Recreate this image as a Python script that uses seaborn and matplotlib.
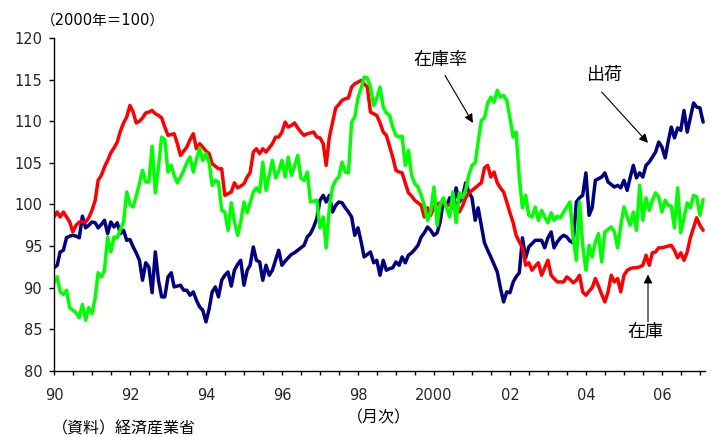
import matplotlib
matplotlib.use("Agg")
import matplotlib.pyplot as plt
import matplotlib.dates as mdates
import matplotlib.ticker as mticker
import numpy as np
import pandas as pd
import seaborn as sns

# monthly index, 2000 = 100, Jan 1990 .. Feb 2007
START = "1990-01-01"
N_MONTHS = 206

shipments = [
    92.4, 92.7, 94.3, 94.5, 96.0, 96.2, 96.3, 96.2, 96.0, 98.6, 97.2, 97.5,
    97.9, 97.8, 97.2, 97.6, 98.1, 96.5, 97.9, 97.3, 97.8, 96.5, 96.9, 95.7,
    95.8, 94.9, 94.2, 93.3, 90.9, 93.0, 92.5, 89.4, 94.3, 90.9, 88.9, 88.9,
    91.3, 91.8, 90.1, 90.2, 90.3, 89.7, 89.7, 89.1, 89.5, 88.5, 87.7, 87.3,
    85.9, 87.5, 89.5, 90.1, 88.9, 90.9, 91.5, 91.9, 90.2, 92.1, 92.8, 93.3,
    90.3, 92.1, 92.7, 94.9, 93.3, 93.1, 90.9, 92.7, 91.5, 92.1, 93.3, 94.5,
    92.7, 93.2, 93.6, 94.0, 94.2, 94.5, 94.8, 95.1, 96.1, 96.5, 97.3, 98.3,
    100.5, 101.1, 100.3, 101.1, 99.1, 99.9, 100.3, 100.2, 99.6, 99.1, 98.5, 96.3,
    97.2, 95.5, 93.7, 94.0, 94.3, 93.0, 93.3, 91.5, 93.3, 92.1, 92.3, 92.4,
    93.1, 92.7, 93.7, 93.0, 93.9, 94.2, 94.6, 95.1, 96.1, 96.6, 97.3, 96.9,
    96.3, 96.6, 97.9, 100.5, 99.7, 100.8, 99.6, 102.0, 100.3, 100.8, 102.6, 101.5,
    100.8, 98.1, 99.6, 97.5, 95.4, 94.5, 93.7, 92.8, 91.9, 90.0, 88.3, 89.5,
    89.4, 90.7, 91.3, 91.8, 96.0, 93.6, 94.9, 95.3, 95.7, 95.7, 95.7, 94.8,
    96.0, 96.7, 94.8, 95.5, 96.0, 96.3, 96.1, 95.6, 95.4, 100.3, 100.8, 101.1,
    103.8, 98.7, 99.6, 102.9, 103.1, 103.3, 103.8, 102.7, 102.4, 102.1, 102.3, 102.0,
    102.9, 101.7, 103.2, 104.7, 103.2, 103.8, 103.3, 104.7, 105.1, 105.7, 106.3, 107.5,
    106.9, 105.6, 107.5, 109.3, 108.0, 109.2, 108.9, 111.3, 108.7, 110.4, 112.2, 111.7,
    111.6, 109.9,
]

inventory = [
    98.5, 99.1, 98.5, 99.1, 98.5, 97.9, 96.7, 97.5, 97.9, 97.9, 97.9, 98.4,
    99.3, 100.5, 102.9, 103.5, 104.5, 105.3, 106.2, 106.8, 107.5, 108.8, 109.8, 110.5,
    111.9, 111.1, 109.8, 110.0, 110.4, 111.0, 111.1, 111.3, 110.9, 110.7, 110.4, 109.3,
    108.3, 108.4, 108.5, 107.3, 105.9, 106.4, 106.9, 107.8, 108.5, 106.7, 107.3, 106.9,
    106.4, 106.1, 104.9, 104.6, 104.3, 104.3, 101.1, 101.3, 101.5, 102.6, 102.0, 102.2,
    102.5, 103.3, 103.8, 106.3, 106.7, 106.1, 106.7, 106.3, 106.8, 107.3, 108.1, 108.1,
    108.7, 109.9, 109.3, 109.5, 109.8, 109.2, 108.7, 108.3, 108.5, 108.6, 108.7, 108.1,
    108.0, 107.3, 104.7, 108.1, 109.8, 111.6, 112.0, 112.5, 112.7, 112.8, 114.1, 114.5,
    114.7, 114.9, 114.5, 114.1, 111.1, 110.9, 110.7, 109.8, 108.7, 108.3, 107.0, 105.7,
    104.1, 103.9, 103.8, 102.6, 101.4, 101.0, 100.5, 100.2, 99.9, 98.5, 99.6, 98.7,
    99.7, 100.0, 100.2, 100.0, 99.9, 100.0, 100.1, 100.2, 99.1, 99.8, 100.8, 101.4,
    101.7, 102.0, 102.3, 102.6, 104.4, 104.7, 103.3, 103.9, 102.6, 102.0, 101.5, 100.3,
    99.0, 97.8, 96.3, 95.5, 94.8, 92.7, 93.0, 92.1, 92.6, 93.0, 91.5, 92.4,
    93.3, 91.5, 91.1, 90.7, 90.7, 90.7, 91.3, 91.0, 90.6, 90.9, 91.5, 89.5,
    89.1, 89.6, 90.0, 91.1, 90.2, 89.2, 88.3, 89.5, 91.5, 90.7, 91.1, 89.5,
    91.5, 92.1, 92.3, 92.4, 92.4, 92.5, 92.7, 93.9, 92.7, 94.2, 94.3, 94.8,
    94.8, 94.9, 95.0, 95.1, 94.5, 93.6, 94.2, 93.3, 94.3, 96.0, 97.2, 98.4,
    97.5, 96.9,
]

inventory_ratio = [
    90.6, 91.3, 89.5, 89.2, 89.7, 87.6, 87.3, 87.0, 86.4, 88.0, 86.1, 87.6,
    86.9, 88.8, 91.8, 91.3, 92.1, 96.1, 94.3, 96.1, 96.0, 97.0, 97.9, 101.5,
    100.0, 99.7, 101.0, 102.5, 104.1, 102.7, 102.7, 107.0, 101.4, 104.5, 108.1, 107.8,
    103.9, 104.7, 103.5, 102.6, 103.3, 104.1, 105.0, 105.7, 103.9, 105.4, 106.8, 105.3,
    106.1, 105.0, 102.3, 102.9, 102.7, 99.3, 99.1, 96.9, 100.2, 97.9, 96.3, 97.9,
    100.3, 99.0, 100.2, 101.5, 102.0, 101.5, 105.1, 101.7, 103.5, 105.3, 103.2, 104.0,
    105.3, 103.3, 105.7, 103.5, 104.6, 105.9, 103.2, 102.9, 103.9, 100.3, 100.4, 100.5,
    97.2, 98.5, 94.8, 99.6, 102.1, 102.9, 103.3, 105.1, 103.9, 103.8, 109.9, 110.5,
    112.8, 114.0, 115.3, 115.2, 114.1, 111.9, 112.8, 114.1, 111.7, 111.0, 110.7, 109.3,
    108.3, 108.1, 108.2, 104.7, 106.5, 103.5, 102.5, 102.1, 101.1, 99.9, 98.1, 99.1,
    102.1, 97.5, 100.0, 100.8, 99.6, 98.5, 101.5, 97.8, 101.4, 100.8, 101.7, 103.5,
    104.7, 105.0, 107.5, 110.1, 110.4, 112.2, 112.9, 112.3, 113.7, 112.9, 113.1, 112.5,
    110.4, 108.1, 108.7, 103.2, 99.6, 101.1, 98.7, 98.5, 99.7, 98.1, 99.3, 98.5,
    97.8, 99.0, 98.1, 98.6, 98.4, 99.1, 99.7, 100.3, 96.0, 93.3, 100.3, 95.1,
    92.1, 95.1, 93.7, 95.5, 96.5, 93.1, 96.7, 97.0, 97.3, 96.7, 94.8, 97.5,
    99.7, 98.5, 97.5, 99.1, 96.9, 102.3, 98.1, 100.8, 99.3, 100.5, 101.4, 100.9,
    99.1, 100.5, 99.9, 99.8, 97.2, 102.0, 96.6, 98.4, 100.2, 99.6, 101.1, 100.9,
    98.7, 100.6,
]

SERIES = ["出荷", "在庫", "在庫率"]
COLORS = {"出荷": "#000080", "在庫": "#FF0000", "在庫率": "#00FF00"}
INK = "#000000"


def month_num(m):
    """fractional month offset from Jan 1990 -> matplotlib date number"""
    return mdates.date2num(pd.Timestamp(START)) + m * 365.25 / 12


def year_label(x, pos):
    year = mdates.num2date(x).year
    return "2000" if year == 2000 else f"{year % 100:02d}"


def main():
    sns.set_theme(style="white")
    # latin digits from DejaVu (wider, closer to the original), kanji from Noto CJK
    plt.rcParams["font.family"] = ["DejaVu Sans", "Noto Sans CJK JP"]

    months = pd.date_range(START, periods=N_MONTHS, freq="MS")
    frame = pd.DataFrame({
        "月": np.tile(months, 3),
        "指数": shipments + inventory + inventory_ratio,
        "系列": np.repeat(SERIES, N_MONTHS),
    })

    fig = plt.figure(figsize=(7.11, 4.37), dpi=100)
    ax = fig.add_axes([54 / 711, 1 - 371 / 437, 651 / 711, 333 / 437])
    sns.lineplot(data=frame, x="月", y="指数", hue="系列", hue_order=SERIES,
                 palette=COLORS, linewidth=2.5, legend=False, ax=ax)

    ax.set_xlim(month_num(0), month_num(205.6))
    ax.set_ylim(80, 120)
    ax.set_yticks(np.arange(80, 121, 5))
    ax.xaxis.set_major_locator(mdates.YearLocator(2))
    ax.xaxis.set_major_formatter(mticker.FuncFormatter(year_label))
    ax.xaxis.set_minor_locator(mdates.MonthLocator(bymonth=[1, 7]))
    ax.set_xlabel("")
    ax.set_ylabel("")
    ax.grid(False)
    for side in ["top", "right"]:
        ax.spines[side].set_visible(False)
    for side in ["left", "bottom"]:
        ax.spines[side].set_color(INK)
        ax.spines[side].set_linewidth(1.0)
    ax.tick_params(axis="y", which="major", direction="out", length=3.5, width=1,
                   color=INK, labelsize=10.5, pad=5, left=True)
    ax.tick_params(axis="x", which="both", direction="out", length=3, width=1,
                   color=INK, labelsize=10.5, pad=9, bottom=True)

    arrow = dict(arrowstyle="-|>", color=INK, lw=0.8, mutation_scale=13,
                 shrinkA=0, shrinkB=0)
    ax.annotate("", xy=(month_num(132.3), 109.8), xytext=(month_num(123.5), 115.5),
                arrowprops=arrow)
    ax.text(month_num(121.9), 117.3, "在庫率", ha="center", va="center", fontsize=13, color=INK)
    ax.annotate("", xy=(month_num(187.6), 107.4), xytext=(month_num(173.0), 113.5),
                arrowprops=arrow)
    ax.text(month_num(174.0), 115.6, "出荷", ha="center", va="center", fontsize=13, color=INK)
    ax.annotate("", xy=(month_num(187.6), 91.6), xytext=(month_num(187.6), 85.9),
                arrowprops=arrow)
    ax.text(month_num(186.6), 84.7, "在庫", ha="center", va="center", fontsize=13, color=INK)

    fig.text(103 / 711, 1 - 20 / 437, "（2000年＝100）", ha="center", va="center",
             fontsize=10.5, color=INK)
    fig.text(379 / 711, 1 - 418 / 437, "（月次）", ha="center", va="center",
             fontsize=11.5, color=INK)
    fig.text(52 / 711, 1 - 429 / 437, "（資料）経済産業省", ha="left", va="center",
             fontsize=11.5, color=INK)

    fig.savefig("out.png", dpi=100, facecolor="white")
    plt.close(fig)


if __name__ == "__main__":
    main()
